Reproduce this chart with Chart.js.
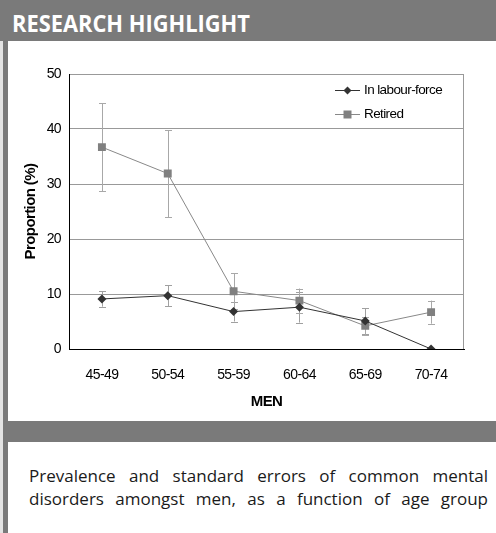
<!DOCTYPE html>
<html lang="en">
<head>
    <meta charset="UTF-8">
    <title>Research Highlight</title>
    <script src="https://cdn.jsdelivr.net/npm/chart.js"></script>
    <style>
        html, body { margin: 0; padding: 0; background: #fff; }
        body { width: 496px; height: 533px; position: relative; overflow: hidden; }
        .header {
            position: absolute; left: 0; top: 0; width: 496px; height: 41px;
            background: #7a7a7a;
        }
        .header span {
            position: absolute; left: 12px; top: 7px;
            font-family: "Open Sans", sans-serif; font-weight: bold; font-size: 24px;
            color: #fff; line-height: 32px; white-space: nowrap;
            transform: scaleX(0.91); transform-origin: left center;
        }
        .strip { position: absolute; left: 3px; top: 41px; width: 5px; height: 492px; background: #7a7a7a; }
        .edge { position: absolute; left: 0; top: 41px; width: 3px; height: 492px; background: #e4e4e4; }
        .band { position: absolute; left: 3px; top: 421px; width: 493px; height: 21px; background: #7a7a7a; }
        .chart-box { position: absolute; left: 9px; top: 41px; width: 487px; height: 380px; }
        .caption {
            position: absolute; left: 29px; top: 464px; width: 459px;
            font-family: "Open Sans", sans-serif; font-size: 17px; line-height: 23px; color: #1a1a1a;
            text-align: justify; text-align-last: justify;
        }
    </style>
</head>
<body>
    <div class="header"><span>RESEARCH HIGHLIGHT</span></div>
    <div class="edge"></div>
    <div class="strip"></div>
    <div class="chart-box"><canvas id="lineChart"></canvas></div>
    <div class="band"></div>
    <div class="caption">Prevalence and standard errors of common mental disorders amongst men, as a function of age group</div>

    <script>
        // values
        const ageGroups = ['45-49', '50-54', '55-59', '60-64', '65-69', '70-74'];
        const labourForce = [9.1, 9.7, 6.8, 7.6, 5.1, 0];
        const labourSE = [1.4, 1.9, 1.8, 2.8, 2.3, 0];
        const retired = [36.7, 31.9, 10.5, 8.8, 4.2, 6.7];
        const retiredSE = [8.0, 7.9, 3.3, 2.2, 1.7, 2.1];
        const yTicks = [0, 10, 20, 30, 40, 50];

        const fontFamily = '"Liberation Sans", Arial, sans-serif';

        // tighter letters, like the original figure
        const tightText = {
            id: 'tightText',
            beforeDraw(chart) { chart.ctx.letterSpacing = '-0.6px'; }
        };

        // standard error whiskers, drawn behind the lines
        const errorBars = {
            id: 'errorBars',
            beforeDatasetsDraw(chart) {
                const ctx = chart.ctx;
                const x = chart.scales.x, y = chart.scales.y;
                ctx.save();
                chart.data.datasets.forEach(ds => {
                    ctx.strokeStyle = ds.errorColor;
                    ctx.lineWidth = 1;
                    ds.data.forEach((v, i) => {
                        const se = ds.errors[i];
                        if (!se) return;
                        const px = Math.round(x.getPixelForValue(i)) + 0.5;
                        const top = y.getPixelForValue(v + se);
                        const bot = y.getPixelForValue(v - se);
                        ctx.beginPath();
                        ctx.moveTo(px, top); ctx.lineTo(px, bot);
                        ctx.moveTo(px - 3.5, Math.round(top) + 0.5); ctx.lineTo(px + 3.5, Math.round(top) + 0.5);
                        ctx.moveTo(px - 3.5, Math.round(bot) + 0.5); ctx.lineTo(px + 3.5, Math.round(bot) + 0.5);
                        ctx.stroke();
                    });
                });
                ctx.restore();
            }
        };

        // right frame line and legend inside the plot
        const frameLegend = {
            id: 'frameLegend',
            afterDatasetsDraw(chart) {
                const ctx = chart.ctx;
                const a = chart.chartArea;
                ctx.save();
                ctx.strokeStyle = '#999';
                ctx.lineWidth = 1;
                ctx.beginPath();
                ctx.moveTo(Math.round(a.right) - 0.5, a.top);
                ctx.lineTo(Math.round(a.right) - 0.5, a.bottom);
                ctx.stroke();

                chart.data.datasets.forEach((ds, i) => {
                    const rowY = a.top + 16.5 + i * 24;
                    const x0 = a.right - 129, x1 = a.right - 104;
                    ctx.strokeStyle = ds.borderColor;
                    ctx.beginPath();
                    ctx.moveTo(x0, rowY); ctx.lineTo(x1, rowY);
                    ctx.stroke();
                    ctx.fillStyle = ds.pointBackgroundColor;
                    const cx = (x0 + x1) / 2;
                    ctx.beginPath();
                    if (ds.pointStyle === 'rect') {
                        ctx.rect(cx - 4, rowY - 4, 8, 8);
                    } else {
                        ctx.moveTo(cx, rowY - 4); ctx.lineTo(cx + 4, rowY);
                        ctx.lineTo(cx, rowY + 4); ctx.lineTo(cx - 4, rowY);
                        ctx.closePath();
                    }
                    ctx.fill();
                    ctx.fillStyle = '#000';
                    ctx.font = '13.5px ' + fontFamily;
                    ctx.textBaseline = 'middle';
                    ctx.textAlign = 'left';
                    ctx.fillText(ds.label, a.right - 100, rowY);
                });
                ctx.restore();
            }
        };

        const ctx = document.getElementById('lineChart').getContext('2d');
        new Chart(ctx, {
            type: 'line',
            data: {
                labels: ageGroups,
                datasets: [
                    {
                        label: 'In labour-force',
                        data: labourForce,
                        errors: labourSE,
                        errorColor: '#a0a0a0',
                        borderColor: '#333',
                        borderWidth: 1,
                        pointStyle: 'rectRot',
                        pointRadius: 4.5,
                        pointBackgroundColor: '#333',
                        pointBorderWidth: 0
                    },
                    {
                        label: 'Retired',
                        data: retired,
                        errors: retiredSE,
                        errorColor: '#a8a8a8',
                        borderColor: '#888',
                        borderWidth: 1,
                        pointStyle: 'rect',
                        pointRadius: 5.6,
                        pointBackgroundColor: '#808080',
                        pointBorderWidth: 0
                    }
                ]
            },
            options: {
                responsive: true,
                maintainAspectRatio: false,
                animation: false,
                layout: { padding: { left: 0, right: 32, top: 33, bottom: 0 } },
                plugins: {
                    legend: { display: false },
                    tooltip: { enabled: false }
                },
                scales: {
                    x: {
                        offset: true,
                        grid: { display: false, drawTicks: false, offset: true },
                        border: { color: '#000', width: 1 },
                        ticks: { padding: 18, color: '#000', font: { family: fontFamily, size: 14 } },
                        title: {
                            display: true, text: 'MEN', color: '#000',
                            font: { family: fontFamily, size: 15, weight: 'bold' },
                            padding: { top: 0, bottom: 10 }
                        },
                        afterFit: scale => { scale.height = 72; }
                    },
                    y: {
                        min: 0,
                        max: 50,
                        afterBuildTicks: scale => { scale.ticks = yTicks.map(v => ({ value: v })); },
                        grid: { color: '#999', drawTicks: false },
                        border: { color: '#000', width: 1 },
                        ticks: { padding: 8, color: '#000', font: { family: fontFamily, size: 14 } },
                        title: {
                            display: true, text: 'Proportion (%)', color: '#000',
                            font: { family: fontFamily, size: 15, weight: 'bold' },
                            padding: { top: 13, bottom: 0 }
                        },
                        afterFit: scale => { scale.width = 60; }
                    }
                }
            },
            plugins: [tightText, errorBars, frameLegend]
        });
    </script>
</body>
</html>
